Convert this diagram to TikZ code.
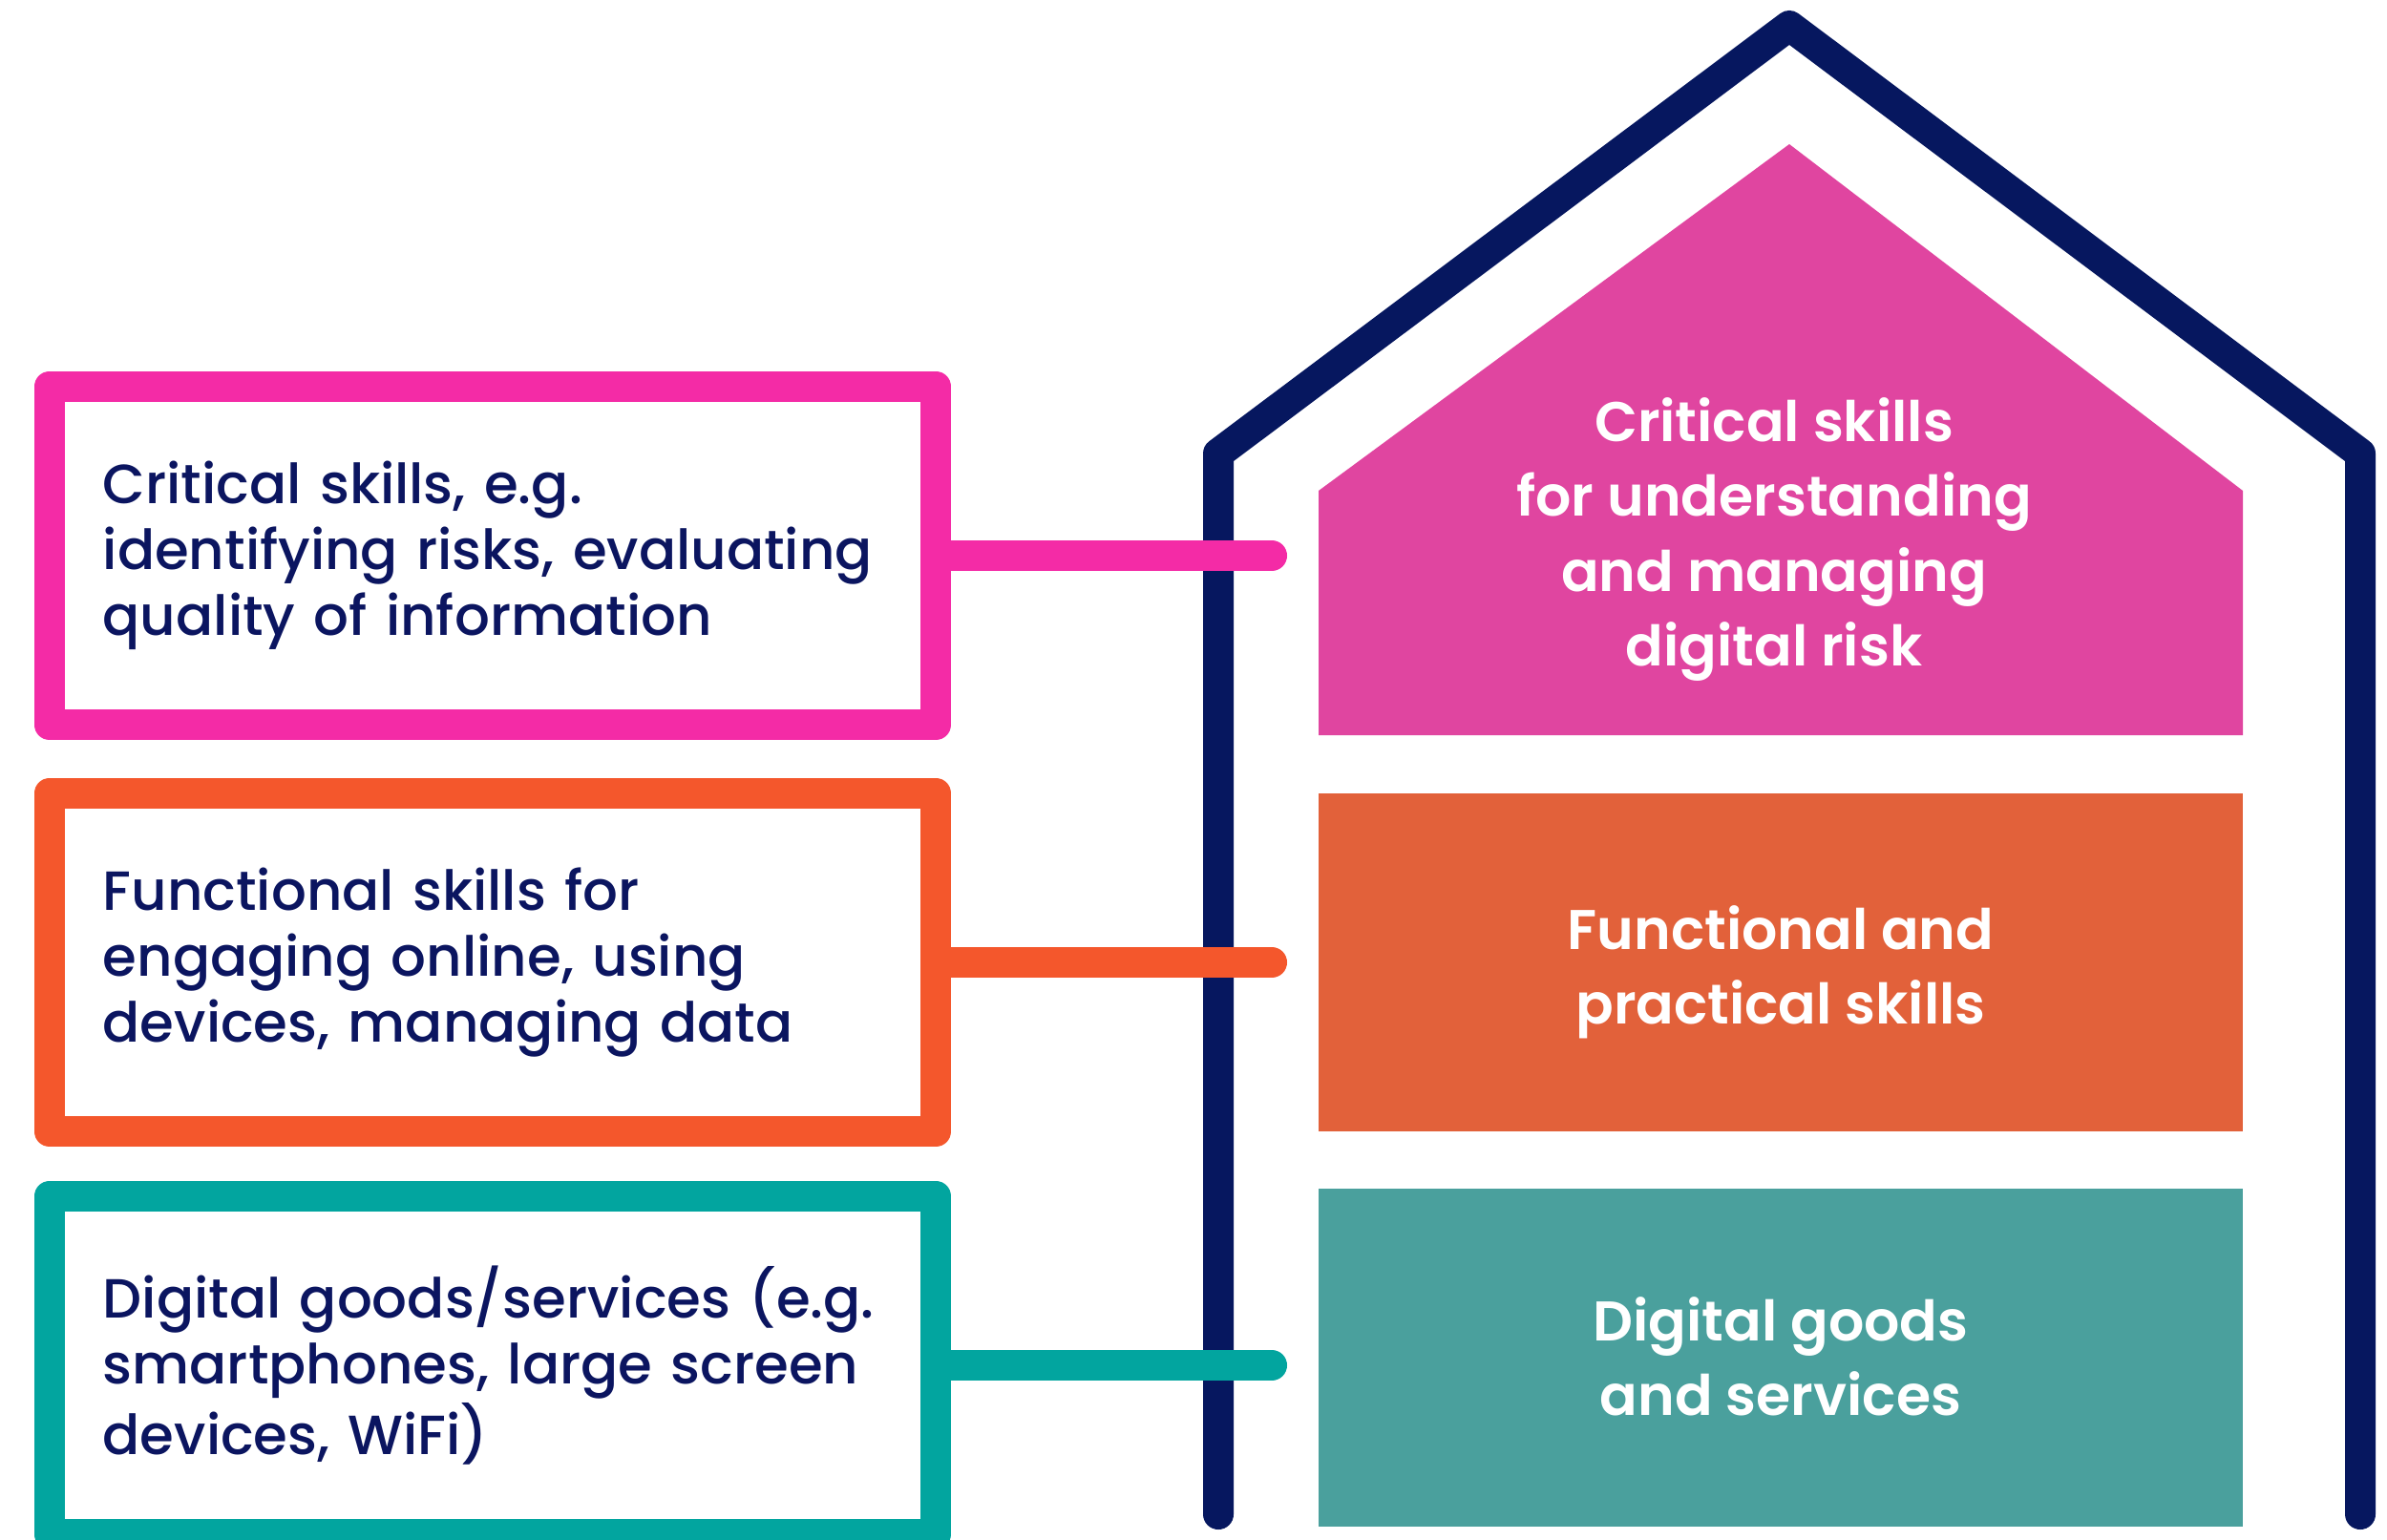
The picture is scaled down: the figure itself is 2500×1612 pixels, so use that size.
\documentclass[tikz,border=0pt]{standalone}
\usepackage{fontspec}
\setmainfont{Poppins}
\newfontfamily\popmed{Poppins Medium}
\newfontfamily\popsemi{Poppins SemiBold}
\usepackage{tikz}
\definecolor{navyline}{HTML}{06175F}
\definecolor{textnavy}{HTML}{0B1560}
\definecolor{pinkline}{HTML}{F42BA6}
\definecolor{roofpink}{HTML}{E045A0}
\definecolor{orangeline}{HTML}{F4572C}
\definecolor{floororange}{HTML}{E2613A}
\definecolor{tealline}{HTML}{02A59F}
\definecolor{floorteal}{HTML}{4AA09D}

\begin{document}
\begin{tikzpicture}[x=0.01cm, y=-0.01cm,
	skillbox/.style={draw, line width=0.32cm, line join=round, fill=white,
		minimum width=9.28cm, minimum height=3.54cm, text width=8.16cm,
		inner xsep=0.56cm, align=left, text=textnavy,
		font=\popmed\fontsize{16.45}{19.6}\selectfont},
	link/.style={line width=0.32cm, line cap=round},
	floortext/.style={text=white, align=center, inner sep=0pt,
		font=\popsemi\fontsize{16.65}{22.2}\selectfont}]

	\path[use as bounding box, clip] (0,0) rectangle (2500,1612);

	% house outline
	\coordinate (LB) at (1276,1586);
	\coordinate (LS) at (1276,475);
	\coordinate (R) at (1874,27);
	\coordinate (RS) at (2472,475);
	\coordinate (RB) at (2472,1586);
	\draw[navyline, line width=0.32cm, line cap=round, line join=round] (LB) -- (LS) -- (R) -- (RS) -- (RB);

	% roof and floors
	\fill[roofpink] (1381,770) -- (1381,514) -- (1874,151) -- (2349,514) -- (2349,770) -- cycle;
	\fill[floororange] (1381,831) rectangle (2349,1185);
	\fill[floorteal] (1381,1245) rectangle (2349,1599);
	\node[floortext] (critical) at (1858,565) {Critical skills\\for understanding\\and managing\\digital risk};
	\node[floortext] (functional) at (1865,1018) {Functional and\\practical skills};
	\node[floortext] (goods) at (1865,1421) {Digital goods\\and services};

	% skill boxes
	\node[skillbox, draw=pinkline] (critbox) at (516,582) {Critical skills, e.g.\\identifying risks, evaluating\\quality of information};
	\node[skillbox, draw=orangeline] (funcbox) at (516,1008) {Functional skills for\\engaging online, using\\devices, managing data};
	\node[skillbox, draw=tealline] (goodsbox) at (516,1430) {Digital goods/services (e.g.\\smartphones, large screen\\devices, WiFi)};

	\coordinate (critend) at (1332,582);
	\coordinate (funcend) at (1332,1008);
	\coordinate (goodsend) at (1332,1430);
	\draw[link, pinkline] (critbox.east) -- (critend);
	\draw[link, orangeline] (funcbox.east) -- (funcend);
	\draw[link, tealline] (goodsbox.east) -- (goodsend);

\end{tikzpicture}
\end{document}
